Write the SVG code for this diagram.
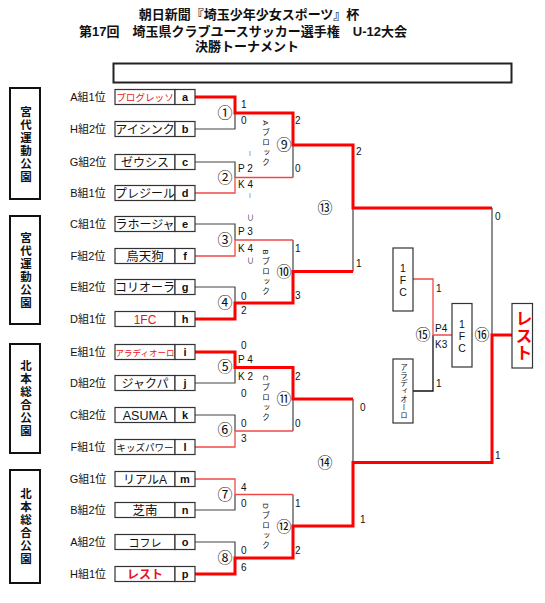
<svg xmlns="http://www.w3.org/2000/svg" width="545" height="603" viewBox="0 0 545 603">
<style>
text{font-family:"Liberation Sans","Noto Sans CJK JP",sans-serif;fill:#111}
.title{font-size:13px;font-weight:bold;text-anchor:middle}
.grp{font-size:11px;text-anchor:middle}
.nm{font-size:12px;text-anchor:middle}
.red{fill:#e8141e}
.lt{font-size:11px;font-weight:bold;text-anchor:middle}
.bx{fill:#fff;stroke:#333;stroke-width:1.2}
.vbx{fill:#fff;stroke:#111;stroke-width:2}
.sc{font-size:10px}
.tk{font-size:5px;text-anchor:middle}
.cn{font-size:15px;text-anchor:middle;font-family:"Noto Sans CJK JP",sans-serif}
.vt{writing-mode:vertical-rl;text-anchor:middle}
.ven{font-size:11.5px;font-weight:bold;letter-spacing:1.5px}
.blk{font-size:8px;letter-spacing:2px}
.up{text-orientation:upright}
.g{stroke:#444;stroke-width:1.2;fill:none}
.r{stroke:#f04848;stroke-width:1.3;fill:none}
.R{stroke:#ff0000;stroke-width:3;fill:none;stroke-linejoin:miter}
.k{stroke:#111;stroke-width:1.3;fill:none}
</style>

<g id="title">
<text class="title" x="249" y="19">朝日新聞『埼玉少年少女スポーツ』杯</text>
<text class="title" x="243" y="36">第17回　埼玉県クラブユースサッカー選手権　U-12大会</text>
<text class="title" x="247" y="51">決勝トーナメント</text>
<rect x="113.5" y="63.5" width="398" height="19" fill="#fff" stroke="#222" stroke-width="2"/>
</g>

<g id="venues">
<rect class="vbx" x="10" y="88" width="30" height="111"/>
<text class="vt ven" x="25" y="145">宮代運動公園</text>
<rect class="vbx" x="10" y="216" width="30" height="108"/>
<text class="vt ven" x="25" y="271">宮代運動公園</text>
<rect class="vbx" x="10" y="344" width="30" height="109"/>
<text class="vt ven" x="25" y="399">北本総合公園</text>
<rect class="vbx" x="10" y="470" width="30" height="113"/>
<text class="vt ven" x="25" y="527">北本総合公園</text>
</g>

<g id="connectors">
<path class="g" d="M195 129H235V113"/>
<path class="g" d="M195 162H235V177.5"/>
<path class="g" d="M195 224H235V240"/>
<path class="g" d="M195 287H235V303"/>
<path class="g" d="M195 383H235V367.5"/>
<path class="g" d="M195 415H235V431"/>
<path class="g" d="M195 510H235V494.5"/>
<path class="g" d="M195 542H235V558"/>
<path class="g" d="M293 177.5V145"/>
<path class="g" d="M293 240V271.5"/>
<path class="g" d="M293 431V399"/>
<path class="g" d="M293 494.5V526"/>
<path class="g" d="M353 271.5V208"/>
<path class="g" d="M353 399V462.5"/>
<path class="g" d="M492 208V335"/>
<path class="k" d="M413 391H433V335"/>
<path class="r" d="M195 193H235V177.5H293"/>
<path class="r" d="M195 256H235V240H293"/>
<path class="r" d="M195 447H235V431H293"/>
<path class="r" d="M195 479H235V494.5H293"/>
<path class="r" d="M413 279H433V335H452"/>
<path class="R" d="M195 97H235V113H293V145H353V208H492"/>
<path class="R" d="M195 319H235V303H293V271.5H353"/>
<path class="R" d="M195 352H235V367.5H293V399H353"/>
<path class="R" d="M195 574H235V558H293V526H353V462.5H492V335H512"/>
</g>

<g id="team-a"><text class="grp" x="88" y="101">A組1位</text><rect class="bx" x="115" y="89.5" width="60" height="15"/><rect class="bx" x="175" y="89.5" width="20" height="15"/><text class="nm red" x="145" y="100.5" style="font-size:9.6px">プログレッソ</text><text class="lt" x="185" y="101">a</text></g>
<g id="team-b"><text class="grp" x="88" y="133">H組2位</text><rect class="bx" x="115" y="121.5" width="60" height="15"/><rect class="bx" x="175" y="121.5" width="20" height="15"/><text class="nm" x="145" y="133.5">アイシンク</text><text class="lt" x="185" y="133">b</text></g>
<g id="team-c"><text class="grp" x="88" y="166">G組2位</text><rect class="bx" x="115" y="154.5" width="60" height="15"/><rect class="bx" x="175" y="154.5" width="20" height="15"/><text class="nm" x="145" y="166.5">ゼウシス</text><text class="lt" x="185" y="166">c</text></g>
<g id="team-d"><text class="grp" x="88" y="197">B組1位</text><rect class="bx" x="115" y="185.5" width="60" height="15"/><rect class="bx" x="175" y="185.5" width="20" height="15"/><text class="nm" x="145" y="197.5">プレジール</text><text class="lt" x="185" y="197">d</text></g>
<g id="team-e"><text class="grp" x="88" y="228">C組1位</text><rect class="bx" x="115" y="216.5" width="60" height="15"/><rect class="bx" x="175" y="216.5" width="20" height="15"/><text class="nm" x="145" y="228.5">ラホージャ</text><text class="lt" x="185" y="228">e</text></g>
<g id="team-f"><text class="grp" x="88" y="260">F組2位</text><rect class="bx" x="115" y="248.5" width="60" height="15"/><rect class="bx" x="175" y="248.5" width="20" height="15"/><text class="nm" x="145" y="260.5" style="font-size:12.5px">烏天狗</text><text class="lt" x="185" y="260">f</text></g>
<g id="team-g"><text class="grp" x="88" y="291">E組2位</text><rect class="bx" x="115" y="279.5" width="60" height="15"/><rect class="bx" x="175" y="279.5" width="20" height="15"/><text class="nm" x="145" y="291.5">コリオーラ</text><text class="lt" x="185" y="291">g</text></g>
<g id="team-h"><text class="grp" x="88" y="323">D組1位</text><rect class="bx" x="115" y="311.5" width="60" height="15"/><rect class="bx" x="175" y="311.5" width="20" height="15"/><text class="nm red" x="145" y="323.5">1FC</text><text class="lt" x="185" y="323">h</text></g>
<g id="team-i"><text class="grp" x="88" y="356">E組1位</text><rect class="bx" x="115" y="344.5" width="60" height="15"/><rect class="bx" x="175" y="344.5" width="20" height="15"/><text class="nm red" x="145" y="355.5" style="font-size:8.5px">アラディオーロ</text><text class="lt" x="185" y="356">i</text></g>
<g id="team-j"><text class="grp" x="88" y="387">D組2位</text><rect class="bx" x="115" y="375.5" width="60" height="15"/><rect class="bx" x="175" y="375.5" width="20" height="15"/><text class="nm" x="145" y="387.5">ジャクパ</text><text class="lt" x="185" y="387">j</text></g>
<g id="team-k"><text class="grp" x="88" y="419">C組2位</text><rect class="bx" x="115" y="407.5" width="60" height="15"/><rect class="bx" x="175" y="407.5" width="20" height="15"/><text class="nm" x="145" y="419.5" style="font-size:12.5px">ASUMA</text><text class="lt" x="185" y="419">k</text></g>
<g id="team-l"><text class="grp" x="88" y="451">F組1位</text><rect class="bx" x="115" y="439.5" width="60" height="15"/><rect class="bx" x="175" y="439.5" width="20" height="15"/><text class="nm" x="145" y="450.5" style="font-size:9.5px">キッズパワー</text><text class="lt" x="185" y="451">l</text></g>
<g id="team-m"><text class="grp" x="88" y="483">G組1位</text><rect class="bx" x="115" y="471.5" width="60" height="15"/><rect class="bx" x="175" y="471.5" width="20" height="15"/><text class="nm" x="145" y="483.5">リアルA</text><text class="lt" x="185" y="483">m</text></g>
<g id="team-n"><text class="grp" x="88" y="514">B組2位</text><rect class="bx" x="115" y="502.5" width="60" height="15"/><rect class="bx" x="175" y="502.5" width="20" height="15"/><text class="nm" x="145" y="514.5" style="font-size:12.5px">芝南</text><text class="lt" x="185" y="514">n</text></g>
<g id="team-o"><text class="grp" x="88" y="546">A組2位</text><rect class="bx" x="115" y="534.5" width="60" height="15"/><rect class="bx" x="175" y="534.5" width="20" height="15"/><text class="nm" x="145" y="546.5" style="font-size:11px">コフレ</text><text class="lt" x="185" y="546">o</text></g>
<g id="team-p"><text class="grp" x="88" y="578">H組1位</text><rect class="bx" x="115" y="566.5" width="60" height="15"/><rect class="bx" x="175" y="566.5" width="20" height="15"/><text class="nm red" x="145" y="578.5" style="font-weight:bold">レスト</text><text class="lt" x="185" y="578">p</text></g>

<g id="match-1"><text class="cn" x="225" y="118">①</text><text class="sc" x="241" y="107.5">1</text><text class="sc" x="241" y="124">0</text></g>
<g id="match-2"><text class="cn" x="225" y="182.5">②</text><text class="tk" x="250" y="155">|</text><text class="sc" x="238" y="171.5">P 2</text><text class="sc" x="238" y="187.5">K 4</text><text class="tk" x="250" y="197">|</text></g>
<g id="match-3"><text class="cn" x="225" y="245">③</text><text class="sc" x="247" y="220" style="font-size:7px">∪</text><text class="sc" x="238" y="235">P 3</text><text class="sc" x="238" y="251.5">K 4</text><text class="sc" x="247" y="263" style="font-size:7px">∪</text></g>
<g id="match-4"><text class="cn" x="225" y="308">④</text><text class="sc" x="241" y="299.5">0</text><text class="sc" x="241" y="314">2</text></g>
<g id="match-5"><text class="cn" x="225" y="371.5">⑤</text><text class="sc" x="241" y="348.5">0</text><text class="sc" x="238" y="362.5">P 4</text><text class="sc" x="238" y="379.5">K 2</text><text class="sc" x="241" y="396.5">0</text></g>
<g id="match-6"><text class="cn" x="225" y="435">⑥</text><text class="sc" x="241" y="426.5">0</text><text class="sc" x="241" y="441.5">3</text></g>
<g id="match-7"><text class="cn" x="225" y="499.5">⑦</text><text class="sc" x="241" y="490.5">4</text><text class="sc" x="241" y="506.5">0</text></g>
<g id="match-8"><text class="cn" x="225" y="563">⑧</text><text class="sc" x="241" y="553.5">0</text><text class="sc" x="241" y="570.5">6</text></g>

<g id="match-9"><text class="cn" x="284" y="150">⑨</text><text class="sc" x="295" y="123.5">2</text><text class="sc" x="295" y="171.5">0</text><text class="vt blk" x="265" y="144">Aブロック</text></g>
<g id="match-10"><text class="cn" x="284" y="276.5">⑩</text><text class="sc" x="295" y="251.5">1</text><text class="sc" x="295" y="298.5">3</text><text class="vt blk" x="265" y="273">Bブロック</text></g>
<g id="match-11"><text class="cn" x="284" y="403.5">⑪</text><text class="sc" x="295" y="379.5">2</text><text class="sc" x="295" y="426.5">0</text><text class="vt blk" x="265" y="399">Cブロック</text></g>
<g id="match-12"><text class="cn" x="284" y="531.5">⑫</text><text class="sc" x="295" y="506.5">1</text><text class="sc" x="295" y="553.5">2</text><text class="vt blk" x="265" y="527">Dブロック</text></g>

<g id="match-13"><text class="cn" x="325" y="213">⑬</text><text class="sc" x="356" y="155">2</text><text class="sc" x="356" y="266.5">1</text></g>
<g id="match-14"><text class="cn" x="325" y="467.5">⑭</text><text class="sc" x="360" y="410.5">0</text><text class="sc" x="360" y="522.5">1</text></g>

<g id="third-1FC"><rect class="bx" x="393" y="248" width="20" height="63"/><text class="vt up" x="403" y="279.5" style="font-size:10.5px">1FC</text></g>
<g id="third-aradiooro"><rect class="bx" x="393" y="359" width="20" height="64"/><text class="vt" x="403" y="391" style="font-size:7.5px;letter-spacing:0.5px">アラディオーロ</text></g>
<g id="match-15"><text class="cn" x="423" y="340">⑮</text><text class="sc" x="436" y="291.5">1</text><text class="sc" x="436" y="386.5">1</text><text class="sc" x="435" y="332">P4</text><text class="sc" x="435" y="348">K3</text></g>
<g id="winner-3rd"><rect class="bx" x="452" y="303.5" width="20" height="63.5"/><text class="vt up" x="462" y="335.5" style="font-size:10.5px">1FC</text></g>

<g id="match-16"><text class="cn" x="482" y="340">⑯</text><text class="sc" x="495" y="219.5">0</text><text class="sc" x="495" y="458.5">1</text></g>
<g id="champion"><rect class="bx" x="512" y="303.5" width="20.5" height="64.5"/><text class="vt" x="522" y="335.5" style="font-size:17px;font-weight:bold;fill:#ff0000">レスト</text></g>
</svg>
